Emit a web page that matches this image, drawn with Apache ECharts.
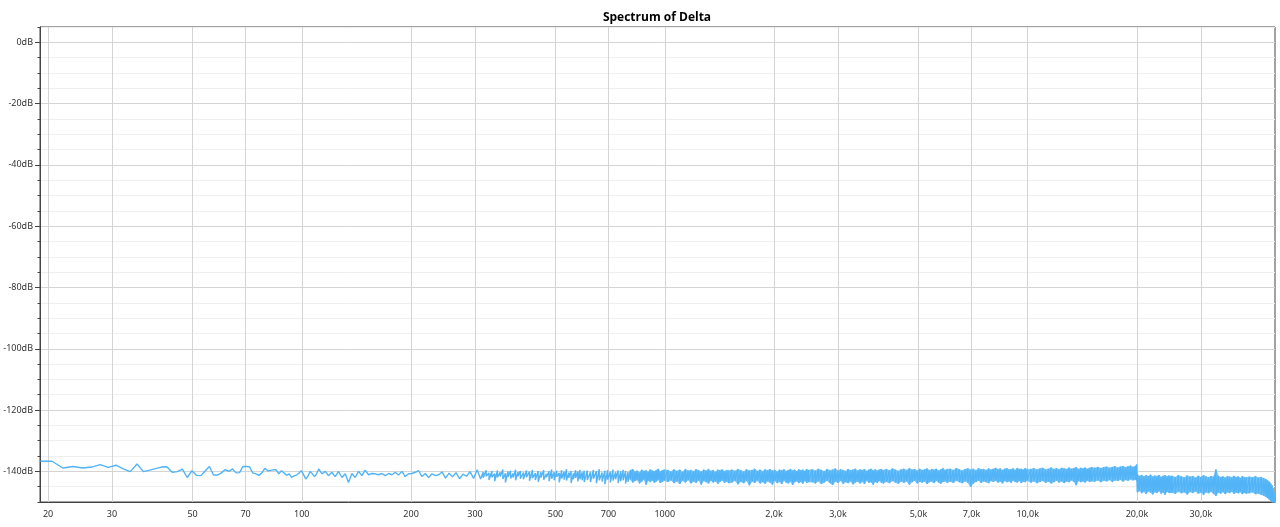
<!DOCTYPE html>
<html><head><meta charset="utf-8">
<script src="https://cdn.jsdelivr.net/npm/echarts@6/dist/echarts.min.js"></script>
<style>html,body{margin:0;padding:0;background:#fff}#c{width:1280px;height:527px}</style>
</head><body><div id="c"></div>
<script>
const chartTitle = 'Spectrum of Delta';
const xTickValues = [20,30,50,70,100,200,300,500,700,1000,2000,3000,5000,7000,10000,20000,30000];
const xTickLabels = ['20','30','50','70','100','200','300','500','700','1000','2,0k','3,0k','5,0k','7,0k','10,0k','20,0k','30,0k'];
const yMajorTicks = [0,-20,-40,-60,-80,-100,-120,-140];

// low-frequency part: individual FFT bins / visible wiggles (Hz, dB)
const lowFreq = [19.04,20.51,21.97,23.44,24.90,26.37,27.83,29.30,30.76,32.23,33.69,35.16,36.62,38.09,39.55,41.02,42.48,43.95,45.41,46.88,48.34,49.80,51.27,52.73,54.20,55.66,57.13,58.59,60.06,61.52,62.99,64.45,65.92,67.38,68.85,70.31,71.78,73.24,74.71,76.17,77.64,79.10,80.57,82.03,83.50,84.96,86.43,87.89,89.36,90.82,92.29,93.75,95.21,96.68,98.14,99.61,101.07,102.54,104.00,105.47,106.93,108.40,109.86,111.33,
113.6,116.0,118.4,121.0,123.6,126.2,129.0,131.7,134.5,137.4,140.3,143.3,146.4,149.5,152.7,156.0,159.3,162.7,166.2,169.8,173.4,177.1,180.9,184.7,188.8,192.8,196.8,201.2,205.4,209.8,214.4,218.9,223.6,228.5,233.4,238.3,243.5,248.9,254.5,260.2,266.0,272.0,278.2,284.4,290.8,297.4,304.1,310.9];
const lowDb = [-136.7,-136.7,-138.9,-138.4,-138.9,-138.6,-137.8,-138.7,-138.0,-139.2,-140.1,-137.6,-140.1,-139.6,-139.1,-138.6,-138.5,-140.3,-140.1,-139.3,-142.0,-139.8,-141.3,-141.4,-139.8,-138.4,-141.2,-141.2,-140.5,-139.4,-140.0,-139.2,-140.5,-140.4,-138.4,-138.4,-138.5,-140.5,-140.8,-141.3,-140.5,-139.0,-139.8,-139.7,-139.5,-139.5,-140.8,-139.8,-140.5,-141.3,-140.8,-142.0,-141.5,-141.2,-140.6,-139.8,-141.0,-142.5,-141.5,-140.0,-140.8,-141.7,-140.8,-139.2,
-140.8,-140.0,-141.4,-140.3,-141.7,-140.0,-142.0,-140.8,-143.6,-140.7,-142.0,-140.0,-141.4,-139.6,-141.1,-140.7,-140.8,-141.1,-140.7,-141.4,-140.7,-141.1,-140.3,-141.2,-140.0,-141.7,-140.8,-140.7,-140.3,-139.8,-141.7,-140.7,-142.0,-140.8,-141.4,-141.1,-140.2,-142.2,-140.6,-141.8,-140.4,-142.4,-140.9,-141.6,-140.1,-142.3,-139.5,-142.5];

// dense part: per column, upper and lower extent of the noise band (Hz, dB)
const bandFreq = [316,322,328,334,340,346,352,358,364,370,376,382,388,394,400,
408,416,424,432,440,448,456,464,472,480,488,496,504,512,520,528,536,544,552,560,568,576,584,592,600,
612,624,636,648,660,672,684,696,708,720,732,744,756,768,780,792,804,816,828,840,852,864,876,888,900,912,924,936,948,960,972,984,996,
1020,1040,1060,1080,1100,1120,1140,1160,1180,1200,1220,1240,1260,1280,1300,1320,1340,1360,1380,1400,1420,1440,1460,1480,1500,
1530,1560,1590,1620,1650,1680,1710,1740,1770,1800,1830,1860,1890,1920,1950,1980,2010,2040,2070,2100,2130,2160,2190,2220,2250,2280,2310,2340,2370,2400,2430,2460,2490,
2550,2600,2650,2700,2750,2800,2850,2900,2950,3000,3050,3100,3150,3200,3250,3300,3350,3400,3450,3500,3550,3600,3650,3700,3750,3800,3850,3900,3950,4000,
4080,4160,4240,4320,4400,4480,4560,4640,4720,4800,4880,4960,5040,5120,5200,5280,5360,5440,5520,5600,5680,5760,5840,5920,6000,
6120,6240,6360,6480,6600,6720,6840,6960,7080,7200,7320,7440,7560,7680,7800,7920,8040,8160,8280,8400,8520,8640,8760,8880,9000,9120,9240,9360,9480,9600,9720,9840,9960,
10200,10400,10600,10800,11000,11200,11400,11600,11800,12000,12200,12400,12600,12800,13000,13200,13400,13600,13800,14000,14200,14400,14600,14800,15000,
15300,15600,15900,16200,16500,16800,17100,17400,17700,18000,18300,18600,18900,19200,19500,19800,19950,
20050,20300,20600,20900,21200,21500,21800,22100,22400,22700,23000,23300,23600,23900,24200,24500,24800,
25000,25500,26000,26500,27000,27500,28000,28500,29000,29500,30000,30500,31000,31500,32000,32500,33000,33500,34000,34500,35000,35500,36000,36500,37000,37500,38000,38500,39000,39500,40000,
40800,41600,42400,43200,44000,44700,45300,45800,46300,46700,47100,47400,47700,47900];
const bandHi = [-140.2,-139.6,-140.5,-139.9,-140.8,-139.7,-140.3,-139.4,-140.6,-140.0,-139.8,-140.7,-139.5,-140.2,-139.9,
-140.4,-139.7,-140.1,-139.5,-140.6,-139.9,-140.3,-139.6,-140.8,-140.0,-139.4,-140.2,-139.8,-140.5,-139.6,-140.1,-139.3,-140.4,-139.9,-140.7,-139.6,-140.0,-139.5,-140.3,-139.8,
-139.7,-140.2,-139.5,-140.0,-139.3,-140.4,-139.8,-139.6,-140.1,-139.4,-140.3,-139.7,-140.0,-139.5,-139.9,-140.2,-139.6,-139.3,-140.1,-139.8,-140.4,-139.5,-139.9,-139.7,-140.2,-139.4,-139.8,-140.0,-139.6,-139.2,-140.1,-139.7,-139.5,
-139.6,-140.1,-139.4,-139.9,-139.5,-140.2,-139.3,-139.8,-139.6,-140.0,-139.4,-139.7,-140.1,-139.5,-139.8,-139.3,-139.9,-139.6,-140.2,-139.5,-139.7,-139.4,-140.0,-139.6,-139.8,
-139.5,-139.9,-139.3,-139.7,-140.1,-139.4,-139.8,-139.6,-139.2,-139.9,-139.5,-140.0,-139.4,-139.7,-139.3,-139.8,-139.6,-140.1,-139.5,-139.7,-139.4,-139.9,-139.6,-139.3,-139.8,-139.5,-140.0,-139.4,-139.7,-139.5,-139.9,-139.3,-139.6,
-139.4,-139.8,-139.2,-139.6,-140.0,-139.3,-139.7,-139.5,-139.1,-139.8,-139.4,-139.6,-139.9,-139.3,-139.7,-139.5,-139.2,-139.8,-139.4,-139.6,-139.3,-139.9,-139.5,-139.2,-139.7,-139.4,-139.8,-139.5,-139.3,-139.6,
-139.3,-139.7,-139.1,-139.5,-139.9,-139.4,-139.2,-139.6,-139.0,-139.5,-139.3,-139.8,-139.2,-139.6,-139.4,-139.1,-139.7,-139.3,-139.5,-139.2,-139.8,-139.4,-139.0,-139.6,-139.3,
-139.2,-139.6,-139.0,-139.4,-139.8,-139.3,-139.1,-139.5,-139.2,-139.7,-139.0,-139.4,-139.3,-139.6,-139.1,-139.5,-139.2,-138.9,-139.4,-139.1,-139.6,-139.2,-139.0,-139.5,-139.3,-139.1,-139.6,-138.9,-139.3,-139.2,-139.5,-139.0,-139.3,
-139.3,-139.0,-139.5,-139.1,-138.9,-139.4,-139.2,-138.8,-139.3,-139.0,-139.4,-138.9,-139.1,-139.3,-138.8,-139.2,-139.0,-138.7,-139.3,-138.9,-139.1,-138.8,-139.2,-138.9,-138.7,
-138.9,-138.6,-139.0,-138.7,-138.5,-138.9,-138.6,-138.4,-138.8,-138.5,-138.3,-138.7,-138.4,-138.2,-138.6,-138.3,-137.8,
-140.9,-141.5,-141.2,-141.7,-141.3,-141.6,-141.1,-141.8,-141.4,-141.6,-141.2,-141.9,-141.5,-141.3,-141.7,-141.4,-141.6,
-141.5,-141.9,-141.3,-141.7,-142.0,-141.4,-141.8,-141.6,-142.1,-141.5,-141.9,-141.3,-141.7,-142.0,-141.6,-141.8,-139.4,-141.5,-141.9,-141.7,-142.1,-141.6,-141.8,-142.0,-141.5,-141.9,-141.7,-142.2,-141.6,-141.9,-142.0,
-141.8,-142.0,-141.6,-142.1,-141.9,-142.3,-142.6,-143.0,-143.4,-144.0,-144.6,-145.5,-146.8,-148.0];
const bandLo = [-142.1,-141.6,-142.8,-141.9,-143.2,-142.0,-141.7,-142.5,-143.6,-141.8,-142.3,-142.0,-142.9,-141.6,-142.4,
-142.6,-141.9,-143.1,-142.2,-142.8,-143.4,-142.0,-142.7,-141.9,-143.2,-142.4,-142.9,-141.8,-143.6,-142.3,-142.7,-143.0,-142.1,-143.8,-142.5,-142.2,-143.3,-142.6,-142.9,-143.5,
-142.8,-143.5,-142.4,-143.9,-142.9,-143.3,-144.2,-142.7,-143.6,-143.0,-142.6,-143.8,-143.2,-142.9,-144.0,-143.4,-142.7,-143.6,-143.1,-142.8,-143.9,-143.3,-142.6,-144.3,-143.0,-143.5,-142.9,-143.7,-143.2,-142.7,-143.8,-143.4,-143.0,
-143.4,-142.9,-143.8,-143.2,-144.1,-143.0,-143.6,-142.8,-143.9,-143.3,-143.7,-142.9,-144.3,-143.1,-143.5,-143.9,-143.0,-143.6,-143.2,-144.0,-143.4,-142.9,-143.7,-143.3,-143.8,
-143.6,-143.0,-144.2,-143.4,-143.8,-143.1,-144.5,-143.3,-143.7,-143.0,-143.9,-143.5,-144.0,-143.2,-143.6,-144.3,-143.1,-143.8,-143.4,-144.1,-143.0,-143.6,-143.9,-143.3,-144.4,-143.5,-143.2,-143.8,-143.4,-144.0,-143.1,-143.7,-143.5,
-143.5,-143.9,-143.2,-144.1,-143.6,-143.0,-143.8,-144.4,-143.3,-143.7,-143.1,-144.0,-143.5,-143.8,-143.2,-144.2,-143.6,-143.3,-143.9,-143.4,-144.1,-143.0,-143.7,-143.5,-144.3,-143.4,-143.8,-143.1,-143.6,-143.9,
-143.4,-143.8,-143.1,-143.6,-144.0,-143.3,-143.7,-143.2,-144.3,-143.5,-143.0,-143.9,-143.4,-143.6,-143.2,-144.1,-143.5,-143.3,-143.8,-143.1,-143.6,-144.0,-143.4,-143.2,-143.7,
-143.3,-143.7,-143.0,-143.5,-143.8,-143.2,-143.6,-145.1,-143.9,-143.4,-143.0,-143.7,-143.2,-143.5,-143.8,-143.1,-143.4,-143.0,-143.6,-143.3,-143.9,-143.1,-143.5,-143.2,-143.7,-143.0,-143.4,-143.6,-143.1,-143.8,-143.3,-143.5,-143.0,
-143.6,-143.2,-143.8,-143.4,-143.1,-143.7,-143.3,-143.9,-143.5,-143.0,-143.6,-143.2,-143.8,-143.3,-143.5,-142.9,-143.4,-144.5,-143.1,-143.5,-143.2,-143.6,-143.0,-143.4,-143.2,
-143.3,-142.9,-143.5,-143.0,-143.2,-142.8,-143.4,-142.9,-143.1,-142.7,-143.3,-142.8,-143.0,-142.6,-142.9,-142.7,-143.0,
-146.8,-146.4,-147.1,-146.6,-147.3,-146.5,-146.9,-147.5,-146.7,-147.0,-146.4,-147.2,-146.8,-147.6,-146.6,-147.0,-146.9,
-146.9,-147.3,-146.6,-147.1,-146.8,-147.5,-146.7,-147.0,-146.5,-147.2,-146.9,-147.6,-146.8,-147.1,-146.6,-147.3,-148.0,-146.9,-147.2,-146.7,-147.4,-146.8,-147.0,-146.6,-147.3,-146.9,-147.1,-146.7,-147.4,-147.0,-147.2,
-147.1,-146.8,-147.4,-147.2,-147.6,-147.9,-148.3,-148.7,-149.2,-149.6,-150.2,-150.8,-151.5,-152.0];

const LINE_COLOR = '#52b4f7';
const FILL_COLOR = '#74c3f8';
const FILL_FROM_HZ = 800;   // below this the trace still reads as a single wiggly line
const seriesData = [];
for (let i = 0; i < lowFreq.length; i++) seriesData.push([lowFreq[i], lowDb[i]]);
const nBand = Math.min(bandFreq.length, bandHi.length, bandLo.length);
const bandData = [];
for (let i = 0; i < nBand; i++) {
  seriesData.push([bandFreq[i], bandHi[i]]);
  seriesData.push([bandFreq[i], bandLo[i]]);
  bandData.push([bandFreq[i], bandHi[i], bandLo[i]]);
}

function renderBand(params, api) {
  const i = params.dataIndex;
  if (i >= nBand - 1 || bandData[i][0] < FILL_FROM_HZ) return null;
  const a = bandData[i], b = bandData[i + 1];
  const pts = [api.coord([a[0], a[1]]), api.coord([b[0], b[1]]), api.coord([b[0], b[2]]), api.coord([a[0], a[2]])];
  const cs = params.coordSys;
  return {
    type: 'polygon', shape: {points: pts},
    style: {fill: FILL_COLOR, stroke: FILL_COLOR, lineWidth: 0.6},
    clipPath: {type: 'rect', shape: {x: cs.x, y: cs.y, width: cs.width, height: cs.height}}
  };
}

const FONT = "'Segoe UI','Noto Sans','Open Sans',sans-serif";
function xLabel(v) {
  for (let i = 0; i < xTickValues.length; i++) {
    if (Math.abs(v - xTickValues[i]) / xTickValues[i] < 1e-4) return xTickLabels[i];
  }
  return '';
}

const chart = echarts.init(document.getElementById('c'), null, {renderer: 'canvas'});
chart.setOption({
  animation: false,
  backgroundColor: '#ffffff',
  title: {
    text: chartTitle, left: 652, top: 7, textAlign: 'center',
    textStyle: {fontFamily: "'Open Sans','Noto Sans',sans-serif", fontWeight: 'bold', fontSize: 12, color: '#000'}
  },
  grid: {left: 40, right: 5, top: 27, bottom: 25, show: true, borderColor: '#444', borderWidth: 1, containLabel: false},
  xAxis: {
    type: 'log', logBase: 10, min: 19, max: 48000,
    axisLine: {onZero: false, lineStyle: {color: '#444', width: 1}},
    axisTick: {show: false, customValues: xTickValues},
    axisLabel: {customValues: xTickValues, formatter: xLabel, margin: 8, color: '#333', fontSize: 9, fontFamily: FONT},
    splitLine: {show: true, lineStyle: {color: '#d4d4d4', width: 1}},
    minorSplitLine: {show: false}
  },
  yAxis: [
    {
      type: 'value', min: -150, max: 5, interval: 5, position: 'left',
      axisLine: {show: true, lineStyle: {color: '#444', width: 1}},
      axisTick: {show: true, length: 2.5, lineStyle: {color: '#444'}},
      axisLabel: {show: false},
      splitLine: {show: true, lineStyle: {color: '#efefef', width: 1}}
    },
    {
      type: 'value', min: -150, max: 5, position: 'left', offset: 0,
      axisLine: {show: false},
      axisTick: {show: true, length: 5, customValues: yMajorTicks, lineStyle: {color: '#444'}},
      axisLabel: {customValues: yMajorTicks, formatter: '{value}dB', margin: 7, color: '#333', fontSize: 9, fontFamily: FONT},
      splitLine: {show: true, lineStyle: {color: '#d4d4d4', width: 1}}
    }
  ],
  series: [
    {
      name: 'band', type: 'custom', renderItem: renderBand, data: bandData,
      encode: {x: 0, y: [1, 2]}, silent: true, z: 2
    },
    {
      name: 'Delta', type: 'line',
      data: seriesData, showSymbol: false, symbol: 'none', sampling: null,
      lineStyle: {color: LINE_COLOR, width: 1.4}, itemStyle: {color: LINE_COLOR},
      clip: true, z: 3
    }
  ]
});
</script></body></html>
